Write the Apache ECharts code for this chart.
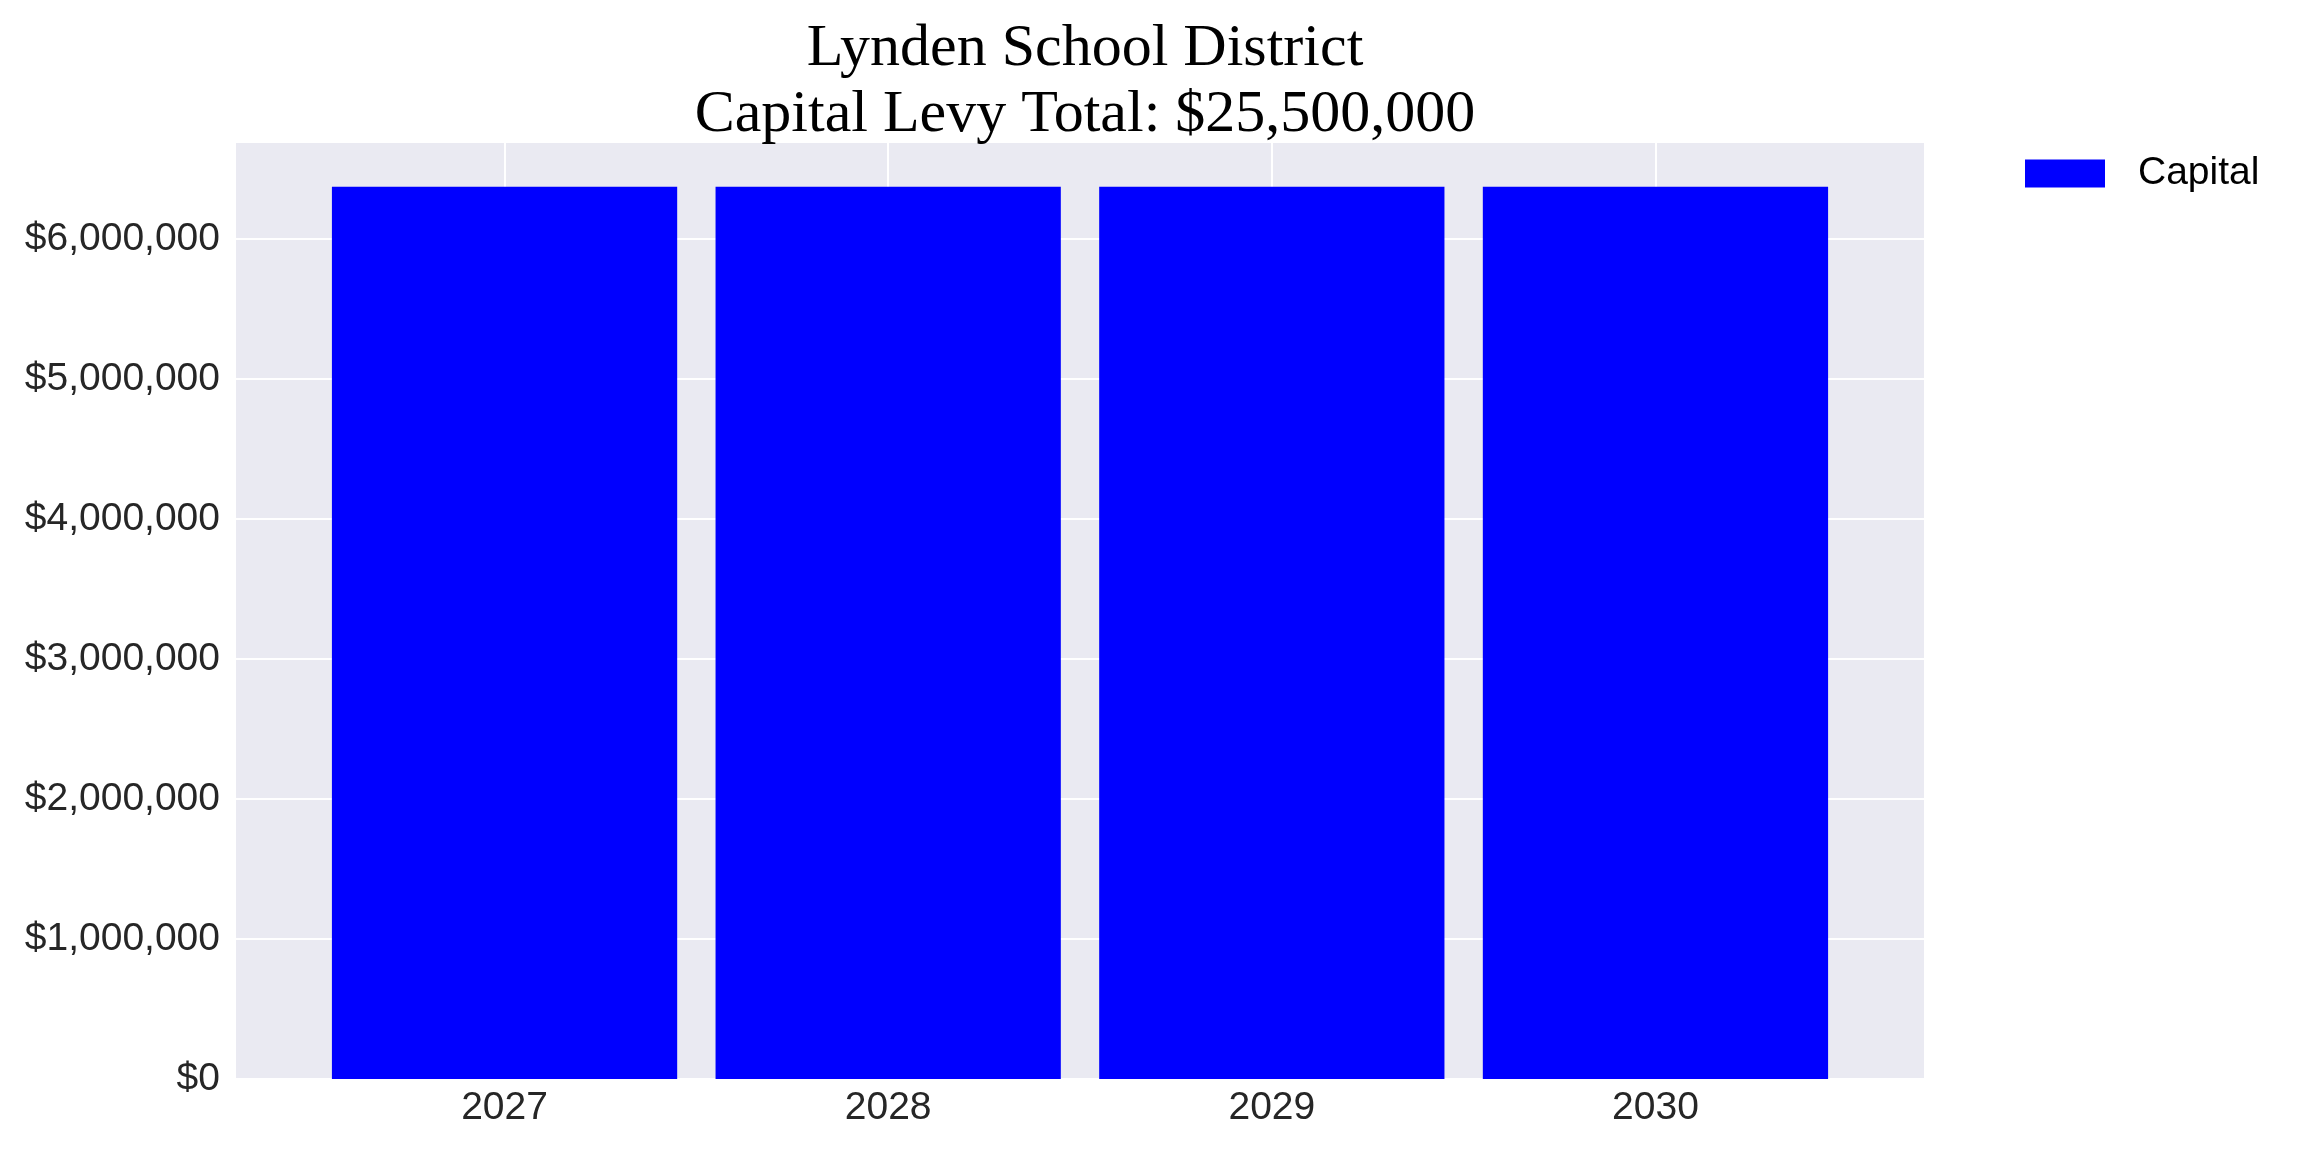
<!DOCTYPE html>
<html>
<head>
<meta charset="utf-8">
<script src="https://cdn.jsdelivr.net/npm/echarts@6/dist/echarts.min.js"></script>
<style>
html,body{margin:0;padding:0;background:#fff;}
#chart{width:2304px;height:1152px;}
</style>
</head>
<body>
<div id="chart"></div>
<script>
// ---- data ----
const years = ['2027', '2028', '2029', '2030'];
const capital = [6375000, 6375000, 6375000, 6375000];
const yTicks = [0, 1000000, 2000000, 3000000, 4000000, 5000000, 6000000];
const titleLines = ['Lynden School District', 'Capital Levy Total: $25,500,000'];
const seriesName = 'Capital';

// ---- layout ----
const W = 2304, H = 1152;
const gridL = 236, gridR = 1924, gridT = 142, gridB = 1079;
const xMin = -0.7, xMax = 3.7;
const yMax = 6694000;
const unitPx = (gridR - gridL) / (xMax - xMin);

const chart = echarts.init(document.getElementById('chart'), null, {renderer: 'canvas'});
chart.setOption({
  animation: false,
  backgroundColor: '#ffffff',
  title: {
    text: titleLines.join('\n'),
    left: (gridL + gridR) / 2,
    textAlign: 'center',
    top: 11,
    textStyle: {
      fontFamily: 'Liberation Serif',
      fontSize: 60,
      fontWeight: 'normal',
      color: '#000000',
      lineHeight: 66
    }
  },
  legend: {
    data: [seriesName],
    left: 2025,
    top: 154,
    padding: 0,
    icon: 'rect',
    itemWidth: 80,
    itemHeight: 28,
    textStyle: {
      fontFamily: 'Liberation Sans',
      fontSize: 39,
      color: '#000000',
      padding: [0, 0, 0, 28]
    }
  },
  grid: {
    left: gridL, right: W - gridR, top: gridT, bottom: H - gridB,
    show: true, backgroundColor: '#EAEAF2', borderWidth: 0,
    containLabel: false
  },
  xAxis: {
    type: 'value',
    min: xMin, max: xMax,
    axisLine: {show: false},
    axisTick: {show: false, customValues: years.map((_, i) => i)},
    axisLabel: {
      customValues: years.map((_, i) => i),
      formatter: v => years[Math.round(v)] ?? '',
      fontFamily: 'Liberation Sans',
      fontSize: 39,
      color: '#262626',
      margin: 10
    },
    splitLine: {show: true, lineStyle: {color: '#ffffff', width: 2}}
  },
  yAxis: {
    type: 'value',
    min: 0, max: yMax,
    interval: 1000000,
    axisLine: {show: false},
    axisTick: {show: false},
    axisLabel: {
      showMaxLabel: false,
      formatter: v => yTicks.includes(v) ? '$' + v.toLocaleString('en-US') : '',
      fontFamily: 'Liberation Sans',
      fontSize: 39,
      color: '#262626',
      margin: 16
    },
    splitLine: {show: true, lineStyle: {color: '#ffffff', width: 2}}
  },
  series: [{
    name: seriesName,
    type: 'bar',
    data: capital.map((v, i) => [i, v]),
    barWidth: 0.9 * unitPx,
    itemStyle: {color: '#0000FF'},
    z: 3
  }]
});
</script>
</body>
</html>
